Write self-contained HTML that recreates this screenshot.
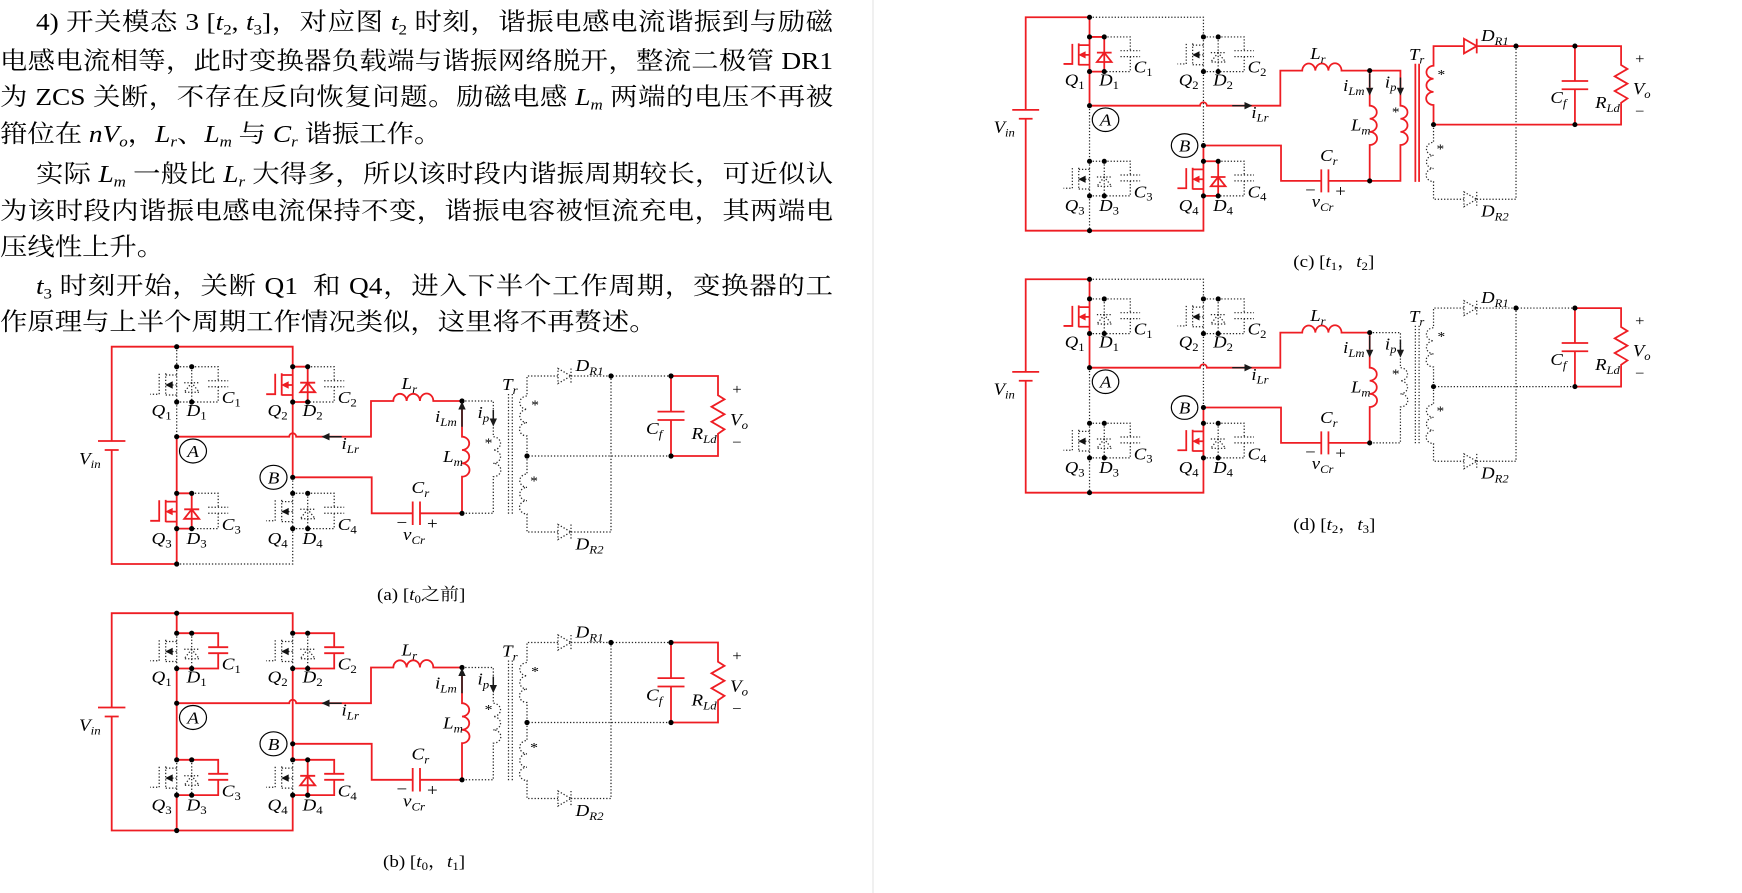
<!DOCTYPE html>
<html><head><meta charset="utf-8">
<style>
html,body{margin:0;padding:0;background:#fff;}
body{width:1742px;height:893px;overflow:hidden;position:relative;}
#para{position:absolute;left:0;top:0;width:1560px;height:340px;transform:scaleX(1.1167);transform-origin:0 0;
 font-family:"Liberation Serif","Noto Serif CJK SC",serif;font-size:24.5px;line-height:37px;color:#000;}
.ln{position:absolute;height:37px;white-space:nowrap;}
.j{text-align:justify;text-align-last:justify;}
#para sub{font-size:0.62em;vertical-align:-0.28em;line-height:0;}
#para i{font-style:italic;}
svg{position:absolute;left:0;top:0;}
.r{stroke:#ee1d23;stroke-width:1.8;fill:none;color:#ee1d23;}
.k{stroke:#262626;stroke-width:1.25;stroke-dasharray:1.3 1.9;fill:none;color:#111;}
svg text{font-family:"Liberation Serif","Noto Serif CJK SC",serif;font-size:17px;fill:#000;}
.i{font-style:italic;}
.s{font-size:11.5px;}
.ar path{stroke:#1a1a1a;stroke-width:1.5;fill:none;}
.ar path.ah{fill:#1a1a1a;stroke:none;}
</style></head>
<body>
<div id="para">
<div class="ln j" style="top:4.2px;left:32.2px;width:713.8px">4) 开关模态 3 [<i>t</i><sub>2</sub>, <i>t</i><sub>3</sub>]，对应图 <i>t</i><sub>2</sub> 时刻，谐振电感电流谐振到与励磁</div>
<div class="ln j" style="top:42.5px;left:0;width:746px">电感电流相等，此时变换器负载端与谐振网络脱开，整流二极管 DR1</div>
<div class="ln j" style="top:79.2px;left:0;width:746px">为 ZCS 关断，不存在反向恢复问题。励磁电感 <i>L<sub>m</sub></i> 两端的电压不再被</div>
<div class="ln" style="top:115.8px;left:0;">箝位在 <i>nV<sub>o</sub></i>，<i>L<sub>r</sub></i>、<i>L<sub>m</sub></i> 与 <i>C<sub>r</sub></i> 谐振工作。</div>
<div class="ln j" style="top:155.8px;left:32.2px;width:713.8px">实际 <i>L<sub>m</sub></i> 一般比 <i>L<sub>r</sub></i> 大得多，所以该时段内谐振周期较长，可近似认</div>
<div class="ln j" style="top:192.5px;left:0;width:746px">为该时段内谐振电感电流保持不变，谐振电容被恒流充电，其两端电</div>
<div class="ln" style="top:229.2px;left:0;">压线性上升。</div>
<div class="ln j" style="top:267.5px;left:32.2px;width:713.8px"><i>t</i><sub>3</sub> 时刻开始，关断 Q1&nbsp; 和 Q4，进入下半个工作周期，变换器的工</div>
<div class="ln" style="top:304.2px;left:0;">作原理与上半个周期工作情况类似，这里将不再赘述。</div>
</div>

<svg width="1742" height="893" viewBox="0 0 1742 893" xmlns="http://www.w3.org/2000/svg">
<defs>
<g id="mos"><path fill="none" d="M0,0V35.3M0,8.3H-11M-11,6.6V28.8M-11,28.3H0M0,18.3H-5M-17.5,7V27.5H-26.5"/><path d="M-11.5,18.3L-4,14.6V22Z" fill="currentColor" stroke="none"/></g>
<g id="dio"><path fill="none" d="M0,0V35.3M-7.5,16H7.5M0,16L-7.5,25.5H7.5Z"/></g>
<g id="cap"><path fill="none" d="M0,0H26.5V14M16.5,14H36.5M16.5,20H36.5M26.5,20V35.3H0"/></g>
<g id="lnk"><path fill="none" d="M0,0H15M0,35.3H15"/></g>
<g id="drd"><path fill="none" d="M0,-7.5L13,0L0,7.5ZM13,-7.5V7.5"/></g>
<g id="pri"><path fill="none" d="M462,401H493.3V436.7a7.5,6.67 0 0 1 0,13.33a7.5,6.67 0 0 1 0,13.33a7.5,6.67 0 0 1 0,13.34V513.3H462"/></g>
<g id="core"><path fill="none" d="M508.5,394V514.3M512.3,394V514.3"/></g>
<g id="sec"><path fill="none" d="M558,376H527V396a7.5,6.67 0 0 0 0,13.33a7.5,6.67 0 0 0 0,13.33a7.5,6.67 0 0 0 0,13.34V456H671M571,376H671"/><use href="#drd" x="558" y="376"/></g>
<g id="base">
<path class="r" d="M176.7,346.7H111.7V441M111.7,450V564H176.7M98,441H125.4M104.7,450H118.7"/>
<path class="r" d="M176.7,436.7H289.2A3.5,3.5 0 0 1 296.2,436.7H371V401H393.3a6.67,7.5 0 0 1 13.33,0a6.67,7.5 0 0 1 13.33,0a6.67,7.5 0 0 1 13.34,0H462V436.7a7.5,6.67 0 0 1 0,13.33a7.5,6.67 0 0 1 0,13.33a7.5,6.67 0 0 1 0,13.34V513.3H420M412.7,513.3H371.7V477.3H292.7M412.7,501.5V525M420,501.5V525"/>
<path class="k" d="M527,456V474a7.5,6.67 0 0 0 0,13.33a7.5,6.67 0 0 0 0,13.33a7.5,6.67 0 0 0 0,13.34V532H558M571,532H611V376"/>
<use href="#drd" class="k" x="558" y="532"/>
<path class="r" d="M671,376H718V395.3l6.5,4l-13,7.5l13,7.5l-13,7.5l13,7.5l-6.5,4.5V456H671M671,376V411.6M657.5,411.6H684.5M657.5,420H684.5M671,420V456"/>
<ellipse cx="193" cy="451" rx="13.5" ry="12" fill="none" stroke="#000" stroke-width="1.2"/>
<ellipse cx="273.5" cy="477.3" rx="13.5" ry="12" fill="none" stroke="#000" stroke-width="1.2"/>
</g>
<g id="nd" fill="#000">
<circle cx="176.7" cy="346.7" r="2.6"/>
<circle cx="176.7" cy="366.7" r="2.6"/><circle cx="191.7" cy="366.7" r="2.6"/><circle cx="176.7" cy="402" r="2.6"/><circle cx="191.7" cy="402" r="2.6"/>
<circle cx="292.7" cy="366.7" r="2.6"/><circle cx="307.7" cy="366.7" r="2.6"/><circle cx="292.7" cy="402" r="2.6"/><circle cx="307.7" cy="402" r="2.6"/>
<circle cx="176.7" cy="493.3" r="2.6"/><circle cx="191.7" cy="493.3" r="2.6"/><circle cx="176.7" cy="528.6" r="2.6"/><circle cx="191.7" cy="528.6" r="2.6"/>
<circle cx="292.7" cy="493.3" r="2.6"/><circle cx="307.7" cy="493.3" r="2.6"/><circle cx="292.7" cy="528.6" r="2.6"/><circle cx="307.7" cy="528.6" r="2.6"/>
<circle cx="176.7" cy="436.7" r="2.6"/><circle cx="292.7" cy="477.3" r="2.6"/><circle cx="176.7" cy="564" r="2.6"/>
<circle cx="462" cy="401" r="2.6"/><circle cx="462" cy="513.3" r="2.6"/>
<circle cx="611" cy="376" r="2.6"/><circle cx="527" cy="456" r="2.6"/><circle cx="671" cy="376" r="2.6"/><circle cx="671" cy="456" r="2.6"/>
</g>
<g id="arL" class="ar"><path d="M341.7,436.7H328M462,426.7V409M493.3,410V419"/><path class="ah" d="M321.5,436.7L329.5,433V440.4ZM462,401.5L458.3,409.5H465.7ZM493.3,426.5L489.6,418.5H497Z"/></g>
<g id="arR" class="ar"><path d="M322,436.7H335M462,404V418M493.3,408V419"/><path class="ah" d="M342.5,436.7L334.5,433V440.4ZM462,426.5L458.3,418.5H465.7ZM493.3,426.5L489.6,418.5H497Z"/></g>
</defs>

<line x1="873" y1="0" x2="873" y2="893" stroke="#e2e2e2" stroke-width="1"/>

<!-- ===== (a) ===== -->
<g>
<use href="#base"/>
<path class="k" d="M176.7,346.7V366.7M176.7,402V436.7M176.7,564H292.7V528.6M292.7,477.3V493.3"/>
<path class="r" d="M176.7,346.7H292.7V366.7M176.7,436.7V493.3M176.7,528.6V564M292.7,402V477.3"/>
<use href="#mos" class="k" x="176.7" y="366.7"/><use href="#dio" class="k" x="191.7" y="366.7"/><use href="#cap" class="k" x="191.7" y="366.7"/><use href="#lnk" class="k" x="176.7" y="366.7"/>
<use href="#mos" class="r" x="292.7" y="366.7"/><use href="#dio" class="r" x="307.7" y="366.7"/><use href="#cap" class="k" x="307.7" y="366.7"/><use href="#lnk" class="r" x="292.7" y="366.7"/>
<use href="#mos" class="r" x="176.7" y="493.3"/><use href="#dio" class="r" x="191.7" y="493.3"/><use href="#cap" class="k" x="191.7" y="493.3"/><use href="#lnk" class="r" x="176.7" y="493.3"/>
<use href="#mos" class="k" x="292.7" y="493.3"/><use href="#dio" class="k" x="307.7" y="493.3"/><use href="#cap" class="k" x="307.7" y="493.3"/><use href="#lnk" class="k" x="292.7" y="493.3"/>
<use href="#pri" class="k"/><use href="#core" class="k"/><use href="#sec" class="k"/>
<use href="#nd"/><use href="#arL"/>
<g>
<text transform="matrix(1.12 0 0 1 79 464)"><tspan class="i">V</tspan><tspan class="s i" dy="4">in</tspan></text>
<text transform="matrix(1.12 0 0 1 151.5 416)"><tspan class="i">Q</tspan><tspan class="s" dy="3.5">1</tspan></text>
<text transform="matrix(1.12 0 0 1 186.5 416)"><tspan class="i">D</tspan><tspan class="s" dy="3.5">1</tspan></text>
<text transform="matrix(1.12 0 0 1 221.7 403)"><tspan class="i">C</tspan><tspan class="s" dy="3.5">1</tspan></text>
<text transform="matrix(1.12 0 0 1 267.5 416)"><tspan class="i">Q</tspan><tspan class="s" dy="3.5">2</tspan></text>
<text transform="matrix(1.12 0 0 1 302.5 416)"><tspan class="i">D</tspan><tspan class="s" dy="3.5">2</tspan></text>
<text transform="matrix(1.12 0 0 1 337.7 403)"><tspan class="i">C</tspan><tspan class="s" dy="3.5">2</tspan></text>
<text transform="matrix(1.12 0 0 1 151.5 544)"><tspan class="i">Q</tspan><tspan class="s" dy="3.5">3</tspan></text>
<text transform="matrix(1.12 0 0 1 186.5 544)"><tspan class="i">D</tspan><tspan class="s" dy="3.5">3</tspan></text>
<text transform="matrix(1.12 0 0 1 221.7 530)"><tspan class="i">C</tspan><tspan class="s" dy="3.5">3</tspan></text>
<text transform="matrix(1.12 0 0 1 267.5 544)"><tspan class="i">Q</tspan><tspan class="s" dy="3.5">4</tspan></text>
<text transform="matrix(1.12 0 0 1 302.5 544)"><tspan class="i">D</tspan><tspan class="s" dy="3.5">4</tspan></text>
<text transform="matrix(1.12 0 0 1 337.7 530)"><tspan class="i">C</tspan><tspan class="s" dy="3.5">4</tspan></text>
<text transform="matrix(1.12 0 0 1 193 457)" text-anchor="middle" class="i">A</text>
<text transform="matrix(1.12 0 0 1 273.5 483.3)" text-anchor="middle" class="i">B</text>
<text transform="matrix(1.12 0 0 1 341.5 449)"><tspan class="i">i</tspan><tspan class="s i" dy="4">Lr</tspan></text>
<text transform="matrix(1.12 0 0 1 401.5 389)"><tspan class="i">L</tspan><tspan class="s i" dy="4">r</tspan></text>
<text transform="matrix(1.12 0 0 1 435 422)"><tspan class="i">i</tspan><tspan class="s i" dy="4">Lm</tspan></text>
<text transform="matrix(1.12 0 0 1 477.5 418)"><tspan class="i">i</tspan><tspan class="s i" dy="4">p</tspan></text>
<text transform="matrix(1.12 0 0 1 443 462)"><tspan class="i">L</tspan><tspan class="s i" dy="4">m</tspan></text>
<text transform="matrix(1.12 0 0 1 411.5 493)"><tspan class="i">C</tspan><tspan class="s i" dy="4">r</tspan></text>
<text transform="matrix(1.12 0 0 1 401.7 528)" text-anchor="middle">−</text>
<text transform="matrix(1.12 0 0 1 432.3 529)" text-anchor="middle">+</text>
<text transform="matrix(1.12 0 0 1 403 540)"><tspan class="i">v</tspan><tspan class="s i" dy="4">Cr</tspan></text>
<text transform="matrix(1.12 0 0 1 502 390)"><tspan class="i">T</tspan><tspan class="s i" dy="4">r</tspan></text>
<text transform="matrix(1.12 0 0 1 488.5 447.5)" text-anchor="middle" style="font-size:14px">*</text>
<text transform="matrix(1.12 0 0 1 535 409.5)" text-anchor="middle" style="font-size:14px">*</text>
<text transform="matrix(1.12 0 0 1 534 485.5)" text-anchor="middle" style="font-size:14px">*</text>
<text transform="matrix(1.12 0 0 1 575.5 371)"><tspan class="i">D</tspan><tspan class="s i" dy="4">R1</tspan></text>
<text transform="matrix(1.12 0 0 1 575.5 549.5)"><tspan class="i">D</tspan><tspan class="s i" dy="4">R2</tspan></text>
<text transform="matrix(1.12 0 0 1 646 434)"><tspan class="i">C</tspan><tspan class="s i" dy="4">f</tspan></text>
<text transform="matrix(1.12 0 0 1 691.5 439)"><tspan class="i">R</tspan><tspan class="s i" dy="4">Ld</tspan></text>
<text transform="matrix(1.12 0 0 1 730 425)"><tspan class="i">V</tspan><tspan class="s i" dy="4">o</tspan></text>
<text transform="matrix(1.12 0 0 1 737 394)" text-anchor="middle" style="font-size:15px">+</text>
<text transform="matrix(1.12 0 0 1 737 447)" text-anchor="middle" style="font-size:15px">−</text>
</g>
</g>

<!-- ===== (b) ===== -->
<g transform="translate(0,266.5)">
<use href="#base"/>
<path class="r" d="M176.7,346.7H292.7V366.7M176.7,346.7V366.7M176.7,402V436.7M176.7,564H292.7V528.6M292.7,477.3V493.3M176.7,436.7V493.3M176.7,528.6V564M292.7,402V477.3"/>
<use href="#mos" class="k" x="176.7" y="366.7"/><use href="#dio" class="k" x="191.7" y="366.7"/><use href="#cap" class="r" x="191.7" y="366.7"/><use href="#lnk" class="r" x="176.7" y="366.7"/>
<use href="#mos" class="k" x="292.7" y="366.7"/><use href="#dio" class="k" x="307.7" y="366.7"/><use href="#cap" class="r" x="307.7" y="366.7"/><use href="#lnk" class="r" x="292.7" y="366.7"/>
<use href="#mos" class="k" x="176.7" y="493.3"/><use href="#dio" class="k" x="191.7" y="493.3"/><use href="#cap" class="r" x="191.7" y="493.3"/><use href="#lnk" class="r" x="176.7" y="493.3"/>
<use href="#mos" class="k" x="292.7" y="493.3"/><use href="#dio" class="r" x="307.7" y="493.3"/><use href="#cap" class="r" x="307.7" y="493.3"/><use href="#lnk" class="r" x="292.7" y="493.3"/>
<use href="#pri" class="k"/><use href="#core" class="k"/><use href="#sec" class="k"/>
<use href="#nd"/><use href="#arL"/>
<g>
<text transform="matrix(1.12 0 0 1 79 464)"><tspan class="i">V</tspan><tspan class="s i" dy="4">in</tspan></text>
<text transform="matrix(1.12 0 0 1 151.5 416)"><tspan class="i">Q</tspan><tspan class="s" dy="3.5">1</tspan></text>
<text transform="matrix(1.12 0 0 1 186.5 416)"><tspan class="i">D</tspan><tspan class="s" dy="3.5">1</tspan></text>
<text transform="matrix(1.12 0 0 1 221.7 403)"><tspan class="i">C</tspan><tspan class="s" dy="3.5">1</tspan></text>
<text transform="matrix(1.12 0 0 1 267.5 416)"><tspan class="i">Q</tspan><tspan class="s" dy="3.5">2</tspan></text>
<text transform="matrix(1.12 0 0 1 302.5 416)"><tspan class="i">D</tspan><tspan class="s" dy="3.5">2</tspan></text>
<text transform="matrix(1.12 0 0 1 337.7 403)"><tspan class="i">C</tspan><tspan class="s" dy="3.5">2</tspan></text>
<text transform="matrix(1.12 0 0 1 151.5 544)"><tspan class="i">Q</tspan><tspan class="s" dy="3.5">3</tspan></text>
<text transform="matrix(1.12 0 0 1 186.5 544)"><tspan class="i">D</tspan><tspan class="s" dy="3.5">3</tspan></text>
<text transform="matrix(1.12 0 0 1 221.7 530)"><tspan class="i">C</tspan><tspan class="s" dy="3.5">3</tspan></text>
<text transform="matrix(1.12 0 0 1 267.5 544)"><tspan class="i">Q</tspan><tspan class="s" dy="3.5">4</tspan></text>
<text transform="matrix(1.12 0 0 1 302.5 544)"><tspan class="i">D</tspan><tspan class="s" dy="3.5">4</tspan></text>
<text transform="matrix(1.12 0 0 1 337.7 530)"><tspan class="i">C</tspan><tspan class="s" dy="3.5">4</tspan></text>
<text transform="matrix(1.12 0 0 1 193 457)" text-anchor="middle" class="i">A</text>
<text transform="matrix(1.12 0 0 1 273.5 483.3)" text-anchor="middle" class="i">B</text>
<text transform="matrix(1.12 0 0 1 341.5 449)"><tspan class="i">i</tspan><tspan class="s i" dy="4">Lr</tspan></text>
<text transform="matrix(1.12 0 0 1 401.5 389)"><tspan class="i">L</tspan><tspan class="s i" dy="4">r</tspan></text>
<text transform="matrix(1.12 0 0 1 435 422)"><tspan class="i">i</tspan><tspan class="s i" dy="4">Lm</tspan></text>
<text transform="matrix(1.12 0 0 1 477.5 418)"><tspan class="i">i</tspan><tspan class="s i" dy="4">p</tspan></text>
<text transform="matrix(1.12 0 0 1 443 462)"><tspan class="i">L</tspan><tspan class="s i" dy="4">m</tspan></text>
<text transform="matrix(1.12 0 0 1 411.5 493)"><tspan class="i">C</tspan><tspan class="s i" dy="4">r</tspan></text>
<text transform="matrix(1.12 0 0 1 401.7 528)" text-anchor="middle">−</text>
<text transform="matrix(1.12 0 0 1 432.3 529)" text-anchor="middle">+</text>
<text transform="matrix(1.12 0 0 1 403 540)"><tspan class="i">v</tspan><tspan class="s i" dy="4">Cr</tspan></text>
<text transform="matrix(1.12 0 0 1 502 390)"><tspan class="i">T</tspan><tspan class="s i" dy="4">r</tspan></text>
<text transform="matrix(1.12 0 0 1 488.5 447.5)" text-anchor="middle" style="font-size:14px">*</text>
<text transform="matrix(1.12 0 0 1 535 409.5)" text-anchor="middle" style="font-size:14px">*</text>
<text transform="matrix(1.12 0 0 1 534 485.5)" text-anchor="middle" style="font-size:14px">*</text>
<text transform="matrix(1.12 0 0 1 575.5 371)"><tspan class="i">D</tspan><tspan class="s i" dy="4">R1</tspan></text>
<text transform="matrix(1.12 0 0 1 575.5 549.5)"><tspan class="i">D</tspan><tspan class="s i" dy="4">R2</tspan></text>
<text transform="matrix(1.12 0 0 1 646 434)"><tspan class="i">C</tspan><tspan class="s i" dy="4">f</tspan></text>
<text transform="matrix(1.12 0 0 1 691.5 439)"><tspan class="i">R</tspan><tspan class="s i" dy="4">Ld</tspan></text>
<text transform="matrix(1.12 0 0 1 730 425)"><tspan class="i">V</tspan><tspan class="s i" dy="4">o</tspan></text>
<text transform="matrix(1.12 0 0 1 737 394)" text-anchor="middle" style="font-size:15px">+</text>
<text transform="matrix(1.12 0 0 1 737 447)" text-anchor="middle" style="font-size:15px">−</text>
</g>
</g>

<!-- ===== (c) ===== -->
<g transform="matrix(0.982 0 0 0.982 916.01 -323.16)">
<use href="#base"/>
<path class="k" d="M176.7,346.7H292.7V366.7M176.7,436.7V493.3M176.7,528.6V564M292.7,402V477.3"/>
<path class="r" d="M176.7,346.7V366.7M176.7,402V436.7M176.7,564H292.7V528.6M292.7,477.3V493.3"/>
<use href="#mos" class="r" x="176.7" y="366.7"/><use href="#dio" class="r" x="191.7" y="366.7"/><use href="#cap" class="k" x="191.7" y="366.7"/><use href="#lnk" class="r" x="176.7" y="366.7"/>
<use href="#mos" class="k" x="292.7" y="366.7"/><use href="#dio" class="k" x="307.7" y="366.7"/><use href="#cap" class="k" x="307.7" y="366.7"/><use href="#lnk" class="k" x="292.7" y="366.7"/>
<use href="#mos" class="k" x="176.7" y="493.3"/><use href="#dio" class="k" x="191.7" y="493.3"/><use href="#cap" class="k" x="191.7" y="493.3"/><use href="#lnk" class="k" x="176.7" y="493.3"/>
<use href="#mos" class="r" x="292.7" y="493.3"/><use href="#dio" class="r" x="307.7" y="493.3"/><use href="#cap" class="k" x="307.7" y="493.3"/><use href="#lnk" class="r" x="292.7" y="493.3"/>
<use href="#pri" class="r"/><use href="#core" class="r"/><use href="#sec" class="r"/>
<use href="#nd"/><use href="#arR"/>
<g>
<text transform="matrix(1.12 0 0 1 79 464)"><tspan class="i">V</tspan><tspan class="s i" dy="4">in</tspan></text>
<text transform="matrix(1.12 0 0 1 151.5 416)"><tspan class="i">Q</tspan><tspan class="s" dy="3.5">1</tspan></text>
<text transform="matrix(1.12 0 0 1 186.5 416)"><tspan class="i">D</tspan><tspan class="s" dy="3.5">1</tspan></text>
<text transform="matrix(1.12 0 0 1 221.7 403)"><tspan class="i">C</tspan><tspan class="s" dy="3.5">1</tspan></text>
<text transform="matrix(1.12 0 0 1 267.5 416)"><tspan class="i">Q</tspan><tspan class="s" dy="3.5">2</tspan></text>
<text transform="matrix(1.12 0 0 1 302.5 416)"><tspan class="i">D</tspan><tspan class="s" dy="3.5">2</tspan></text>
<text transform="matrix(1.12 0 0 1 337.7 403)"><tspan class="i">C</tspan><tspan class="s" dy="3.5">2</tspan></text>
<text transform="matrix(1.12 0 0 1 151.5 544)"><tspan class="i">Q</tspan><tspan class="s" dy="3.5">3</tspan></text>
<text transform="matrix(1.12 0 0 1 186.5 544)"><tspan class="i">D</tspan><tspan class="s" dy="3.5">3</tspan></text>
<text transform="matrix(1.12 0 0 1 221.7 530)"><tspan class="i">C</tspan><tspan class="s" dy="3.5">3</tspan></text>
<text transform="matrix(1.12 0 0 1 267.5 544)"><tspan class="i">Q</tspan><tspan class="s" dy="3.5">4</tspan></text>
<text transform="matrix(1.12 0 0 1 302.5 544)"><tspan class="i">D</tspan><tspan class="s" dy="3.5">4</tspan></text>
<text transform="matrix(1.12 0 0 1 337.7 530)"><tspan class="i">C</tspan><tspan class="s" dy="3.5">4</tspan></text>
<text transform="matrix(1.12 0 0 1 193 457)" text-anchor="middle" class="i">A</text>
<text transform="matrix(1.12 0 0 1 273.5 483.3)" text-anchor="middle" class="i">B</text>
<text transform="matrix(1.12 0 0 1 341.5 449)"><tspan class="i">i</tspan><tspan class="s i" dy="4">Lr</tspan></text>
<text transform="matrix(1.12 0 0 1 401.5 389)"><tspan class="i">L</tspan><tspan class="s i" dy="4">r</tspan></text>
<text transform="matrix(1.12 0 0 1 435 422)"><tspan class="i">i</tspan><tspan class="s i" dy="4">Lm</tspan></text>
<text transform="matrix(1.12 0 0 1 477.5 418)"><tspan class="i">i</tspan><tspan class="s i" dy="4">p</tspan></text>
<text transform="matrix(1.12 0 0 1 443 462)"><tspan class="i">L</tspan><tspan class="s i" dy="4">m</tspan></text>
<text transform="matrix(1.12 0 0 1 411.5 493)"><tspan class="i">C</tspan><tspan class="s i" dy="4">r</tspan></text>
<text transform="matrix(1.12 0 0 1 401.7 528)" text-anchor="middle">−</text>
<text transform="matrix(1.12 0 0 1 432.3 529)" text-anchor="middle">+</text>
<text transform="matrix(1.12 0 0 1 403 540)"><tspan class="i">v</tspan><tspan class="s i" dy="4">Cr</tspan></text>
<text transform="matrix(1.12 0 0 1 502 390)"><tspan class="i">T</tspan><tspan class="s i" dy="4">r</tspan></text>
<text transform="matrix(1.12 0 0 1 488.5 447.5)" text-anchor="middle" style="font-size:14px">*</text>
<text transform="matrix(1.12 0 0 1 535 409.5)" text-anchor="middle" style="font-size:14px">*</text>
<text transform="matrix(1.12 0 0 1 534 485.5)" text-anchor="middle" style="font-size:14px">*</text>
<text transform="matrix(1.12 0 0 1 575.5 371)"><tspan class="i">D</tspan><tspan class="s i" dy="4">R1</tspan></text>
<text transform="matrix(1.12 0 0 1 575.5 549.5)"><tspan class="i">D</tspan><tspan class="s i" dy="4">R2</tspan></text>
<text transform="matrix(1.12 0 0 1 646 434)"><tspan class="i">C</tspan><tspan class="s i" dy="4">f</tspan></text>
<text transform="matrix(1.12 0 0 1 691.5 439)"><tspan class="i">R</tspan><tspan class="s i" dy="4">Ld</tspan></text>
<text transform="matrix(1.12 0 0 1 730 425)"><tspan class="i">V</tspan><tspan class="s i" dy="4">o</tspan></text>
<text transform="matrix(1.12 0 0 1 737 394)" text-anchor="middle" style="font-size:15px">+</text>
<text transform="matrix(1.12 0 0 1 737 447)" text-anchor="middle" style="font-size:15px">−</text>
</g>
</g>

<!-- ===== (d) ===== -->
<g transform="matrix(0.982 0 0 0.982 916.01 -61.16)">
<use href="#base"/>
<path class="k" d="M176.7,346.7H292.7V366.7M176.7,436.7V493.3M176.7,528.6V564M292.7,402V477.3"/>
<path class="r" d="M176.7,346.7V366.7M176.7,402V436.7M176.7,564H292.7V528.6M292.7,477.3V493.3"/>
<use href="#dio" class="k" x="191.7" y="366.7"/><use href="#cap" class="k" x="191.7" y="366.7"/><use href="#lnk" class="k" x="176.7" y="366.7"/><use href="#mos" class="r" x="176.7" y="366.7"/>
<use href="#mos" class="k" x="292.7" y="366.7"/><use href="#dio" class="k" x="307.7" y="366.7"/><use href="#cap" class="k" x="307.7" y="366.7"/><use href="#lnk" class="k" x="292.7" y="366.7"/>
<use href="#mos" class="k" x="176.7" y="493.3"/><use href="#dio" class="k" x="191.7" y="493.3"/><use href="#cap" class="k" x="191.7" y="493.3"/><use href="#lnk" class="k" x="176.7" y="493.3"/>
<use href="#dio" class="k" x="307.7" y="493.3"/><use href="#cap" class="k" x="307.7" y="493.3"/><use href="#lnk" class="k" x="292.7" y="493.3"/><use href="#mos" class="r" x="292.7" y="493.3"/>
<use href="#pri" class="k"/><use href="#core" class="k"/><use href="#sec" class="k"/>
<use href="#nd"/><use href="#arR"/>
<g>
<text transform="matrix(1.12 0 0 1 79 464)"><tspan class="i">V</tspan><tspan class="s i" dy="4">in</tspan></text>
<text transform="matrix(1.12 0 0 1 151.5 416)"><tspan class="i">Q</tspan><tspan class="s" dy="3.5">1</tspan></text>
<text transform="matrix(1.12 0 0 1 186.5 416)"><tspan class="i">D</tspan><tspan class="s" dy="3.5">1</tspan></text>
<text transform="matrix(1.12 0 0 1 221.7 403)"><tspan class="i">C</tspan><tspan class="s" dy="3.5">1</tspan></text>
<text transform="matrix(1.12 0 0 1 267.5 416)"><tspan class="i">Q</tspan><tspan class="s" dy="3.5">2</tspan></text>
<text transform="matrix(1.12 0 0 1 302.5 416)"><tspan class="i">D</tspan><tspan class="s" dy="3.5">2</tspan></text>
<text transform="matrix(1.12 0 0 1 337.7 403)"><tspan class="i">C</tspan><tspan class="s" dy="3.5">2</tspan></text>
<text transform="matrix(1.12 0 0 1 151.5 544)"><tspan class="i">Q</tspan><tspan class="s" dy="3.5">3</tspan></text>
<text transform="matrix(1.12 0 0 1 186.5 544)"><tspan class="i">D</tspan><tspan class="s" dy="3.5">3</tspan></text>
<text transform="matrix(1.12 0 0 1 221.7 530)"><tspan class="i">C</tspan><tspan class="s" dy="3.5">3</tspan></text>
<text transform="matrix(1.12 0 0 1 267.5 544)"><tspan class="i">Q</tspan><tspan class="s" dy="3.5">4</tspan></text>
<text transform="matrix(1.12 0 0 1 302.5 544)"><tspan class="i">D</tspan><tspan class="s" dy="3.5">4</tspan></text>
<text transform="matrix(1.12 0 0 1 337.7 530)"><tspan class="i">C</tspan><tspan class="s" dy="3.5">4</tspan></text>
<text transform="matrix(1.12 0 0 1 193 457)" text-anchor="middle" class="i">A</text>
<text transform="matrix(1.12 0 0 1 273.5 483.3)" text-anchor="middle" class="i">B</text>
<text transform="matrix(1.12 0 0 1 341.5 449)"><tspan class="i">i</tspan><tspan class="s i" dy="4">Lr</tspan></text>
<text transform="matrix(1.12 0 0 1 401.5 389)"><tspan class="i">L</tspan><tspan class="s i" dy="4">r</tspan></text>
<text transform="matrix(1.12 0 0 1 435 422)"><tspan class="i">i</tspan><tspan class="s i" dy="4">Lm</tspan></text>
<text transform="matrix(1.12 0 0 1 477.5 418)"><tspan class="i">i</tspan><tspan class="s i" dy="4">p</tspan></text>
<text transform="matrix(1.12 0 0 1 443 462)"><tspan class="i">L</tspan><tspan class="s i" dy="4">m</tspan></text>
<text transform="matrix(1.12 0 0 1 411.5 493)"><tspan class="i">C</tspan><tspan class="s i" dy="4">r</tspan></text>
<text transform="matrix(1.12 0 0 1 401.7 528)" text-anchor="middle">−</text>
<text transform="matrix(1.12 0 0 1 432.3 529)" text-anchor="middle">+</text>
<text transform="matrix(1.12 0 0 1 403 540)"><tspan class="i">v</tspan><tspan class="s i" dy="4">Cr</tspan></text>
<text transform="matrix(1.12 0 0 1 502 390)"><tspan class="i">T</tspan><tspan class="s i" dy="4">r</tspan></text>
<text transform="matrix(1.12 0 0 1 488.5 447.5)" text-anchor="middle" style="font-size:14px">*</text>
<text transform="matrix(1.12 0 0 1 535 409.5)" text-anchor="middle" style="font-size:14px">*</text>
<text transform="matrix(1.12 0 0 1 534 485.5)" text-anchor="middle" style="font-size:14px">*</text>
<text transform="matrix(1.12 0 0 1 575.5 371)"><tspan class="i">D</tspan><tspan class="s i" dy="4">R1</tspan></text>
<text transform="matrix(1.12 0 0 1 575.5 549.5)"><tspan class="i">D</tspan><tspan class="s i" dy="4">R2</tspan></text>
<text transform="matrix(1.12 0 0 1 646 434)"><tspan class="i">C</tspan><tspan class="s i" dy="4">f</tspan></text>
<text transform="matrix(1.12 0 0 1 691.5 439)"><tspan class="i">R</tspan><tspan class="s i" dy="4">Ld</tspan></text>
<text transform="matrix(1.12 0 0 1 730 425)"><tspan class="i">V</tspan><tspan class="s i" dy="4">o</tspan></text>
<text transform="matrix(1.12 0 0 1 737 394)" text-anchor="middle" style="font-size:15px">+</text>
<text transform="matrix(1.12 0 0 1 737 447)" text-anchor="middle" style="font-size:15px">−</text>
</g>
</g>

<!-- captions -->
<text transform="matrix(1.12 0 0 1 377 600)">(a) [<tspan class="i">t</tspan><tspan class="s" dy="3">0</tspan><tspan dy="-3">之前]</tspan></text>
<text transform="matrix(1.12 0 0 1 383 867)">(b) [<tspan class="i">t</tspan><tspan class="s" dy="3">0</tspan><tspan dy="-3">，</tspan><tspan class="i">t</tspan><tspan class="s" dy="3">1</tspan><tspan dy="-3">]</tspan></text>
<text transform="matrix(1.12 0 0 1 1293.3 267)">(c) [<tspan class="i">t</tspan><tspan class="s" dy="3">1</tspan><tspan dy="-3">，</tspan><tspan class="i">t</tspan><tspan class="s" dy="3">2</tspan><tspan dy="-3">]</tspan></text>
<text transform="matrix(1.12 0 0 1 1293.3 530)">(d) [<tspan class="i">t</tspan><tspan class="s" dy="3">2</tspan><tspan dy="-3">，</tspan><tspan class="i">t</tspan><tspan class="s" dy="3">3</tspan><tspan dy="-3">]</tspan></text>
</svg>
</body></html>
